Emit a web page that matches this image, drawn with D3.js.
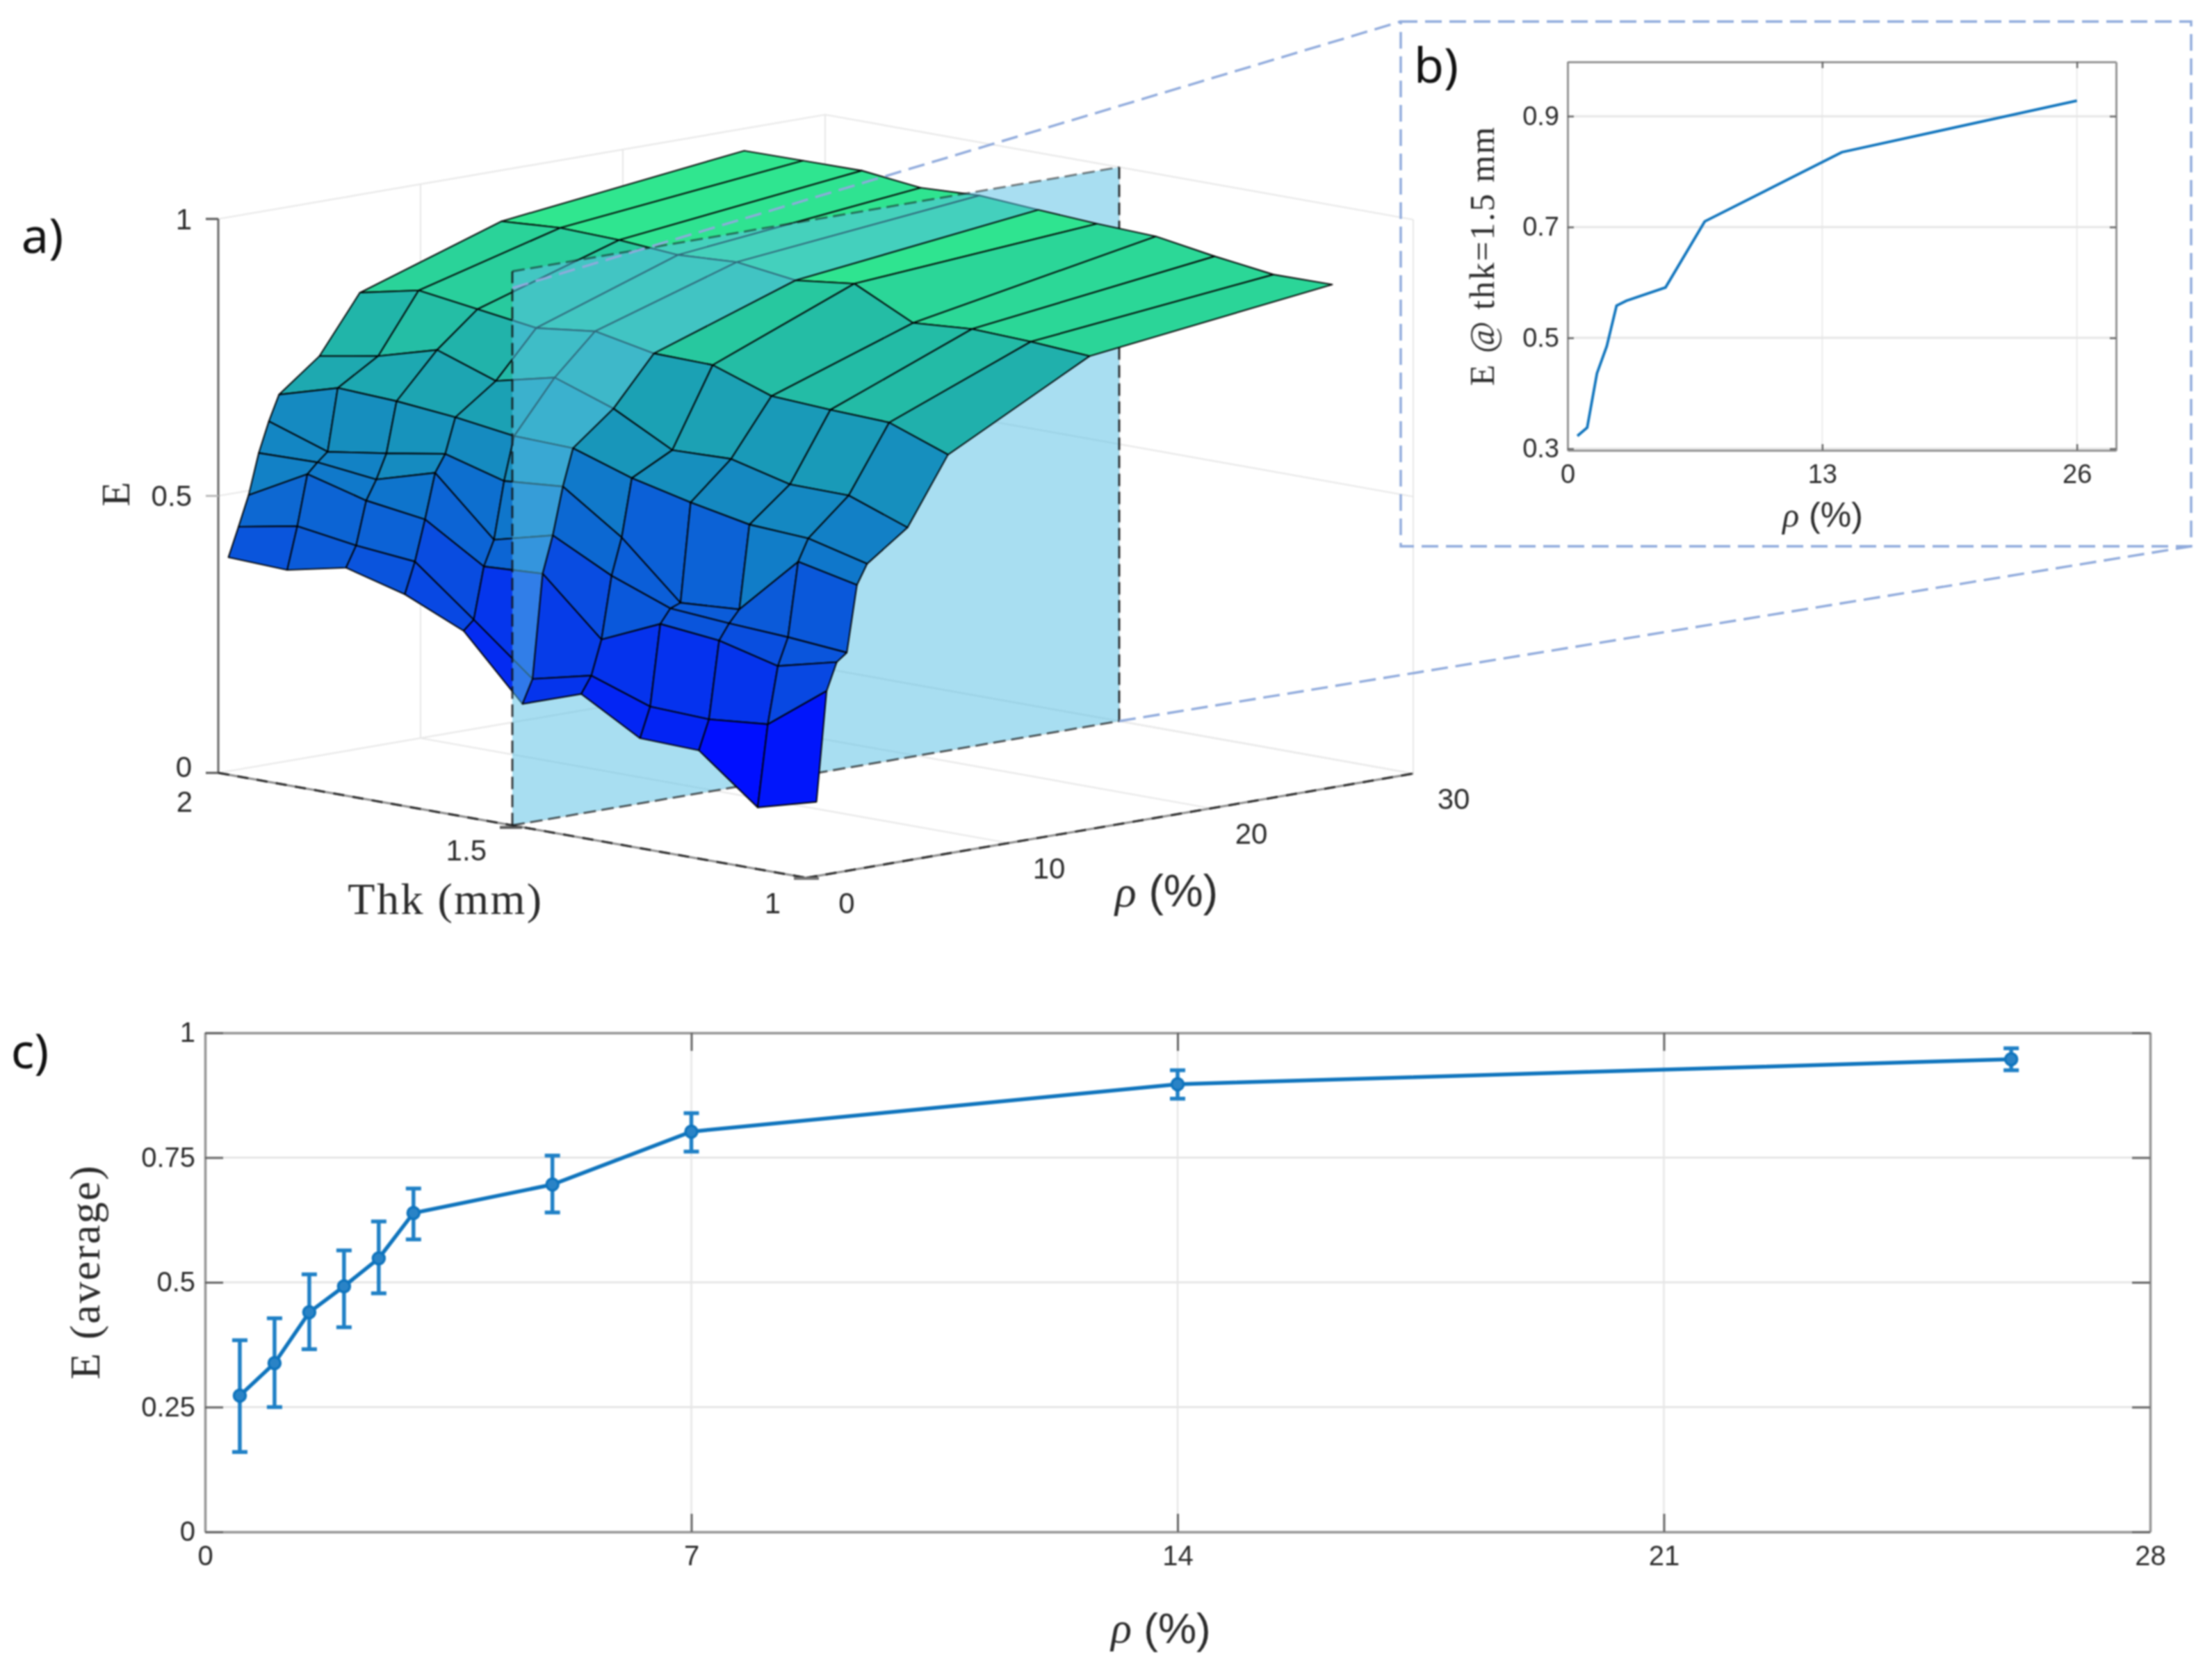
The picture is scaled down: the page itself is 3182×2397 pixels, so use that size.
<!DOCTYPE html>
<html><head><meta charset="utf-8">
<script src="https://cdn.jsdelivr.net/npm/d3@7"></script>
<style>
html,body{margin:0;padding:0;background:#fff}
svg{display:block;filter:blur(0.8px)}
text{fill:#2b2b2b}
</style></head><body><div id="c"></div>
<script>
// ---------- DATA ----------
const rhoGrid=[0.5,1,1.5,2,2.5,3,5,7,14,26];
const thkGrid=[1,1.1,1.2,1.3,1.4,1.5,1.6,1.7,1.8,1.9,2];
const surfaceE=[
 [.134,.331,.380,.394,.513,.548,.601,.720,.854,.908],
 [.105,.252,.354,.403,.536,.575,.640,.759,.861,.907],
 [.189,.242,.381,.409,.431,.581,.641,.763,.865,.921],
 [.192,.246,.392,.417,.424,.602,.668,.769,.857,.938],
 [.253,.283,.345,.457,.523,.627,.665,.806,.909,.942],
 [.216,.258,.445,.511,.596,.662,.721,.808,.896,.948],
 [.329,.346,.439,.484,.587,.665,.758,.829,.910,.955],
 [.376,.432,.505,.586,.617,.680,.733,.816,.904,.950],
 [.405,.442,.520,.555,.599,.690,.770,.831,.912,.962],
 [.382,.458,.549,.567,.583,.695,.740,.846,.915,.961],
 [.386,.438,.492,.565,.619,.664,.721,.823,.908,.960]];
const slicePlaneThk=1.5;
const zTicks3D=[0,0.5,1], thkTicks3D=[1,1.5,2], rhoTicks3D=[0,10,20,30];

const insetRho=[0.5,1,1.5,2,2.5,3,5,7,14,26];
const insetE=[.323,.338,.436,.485,.558,.567,.591,.71,.835,.928];
const insetXTicks=[0,13,26], insetYTicks=[.3,.5,.7,.9];

const avgRho=[0.5,1,1.5,2,2.5,3,5,7,14,26];
const avgE=[.273,.338,.440,.492,.548,.639,.696,.802,.897,.947];
const avgHi=[.384,.428,.516,.564,.622,.688,.754,.839,.925,.969];
const avgLo=[.160,.250,.366,.410,.478,.586,.640,.762,.868,.925];
const avgXTicks=[0,7,14,21,28], avgYTicks=[0,.25,.5,.75,1];

// ---------- PAGE ----------
const W=3182,H=2397;
const svg=d3.select("#c").append("svg").attr("width",W).attr("height",H).attr("viewBox",[0,0,W,H]);
svg.append("rect").attr("width",W).attr("height",H).attr("fill","#fff");
const SANS="'Liberation Sans',Arial,sans-serif",SERIF="'Liberation Serif',serif",CAL="'Noto Sans',sans-serif";
function label(g,x,y,txt,o={}){
  const t=g.append("text").attr("x",x).attr("y",y).attr("text-anchor",o.anchor||"middle")
   .attr("dominant-baseline","central").attr("font-family",o.font||SANS).attr("font-size",o.size||38).text(txt);
  if(o.rot!=null)t.attr("transform",`rotate(${o.rot} ${x} ${y})`);
  if(o.fill)t.style("fill",o.fill);
  if(o.ls)t.attr("letter-spacing",o.ls);
  return t;
}
function rhoLabel(g,x,y,size,rot){
  const t=g.append("text").attr("x",x).attr("y",y).attr("text-anchor","middle").attr("dominant-baseline","central").attr("font-size",size);
  if(rot!=null)t.attr("transform",`rotate(${rot} ${x} ${y})`);
  t.append("tspan").attr("font-family",SERIF).attr("font-style","italic").text("ρ");
  t.append("tspan").attr("font-family",SANS).text(" (%)");
}

// ---------- PANEL A : 3-D surface ----------
const F=[1160,1263],L=[314,1112],R=[2033,1113],ZH=797;
const u=d3.scaleLinear().domain([1,2]).range([0,1]);
const v=d3.scaleLinear().domain([0,30]).range([0,1]);
const w=d3.scaleLinear().domain([0,1]).range([0,ZH]);
function P(thk,rho,z){
  const a=u(thk),b=v(rho);
  return [F[0]+a*(L[0]-F[0])+b*(R[0]-F[0]), F[1]+a*(L[1]-F[1])+b*(R[1]-F[1])-w(z)];
}
const lineP=d3.line();
const A=svg.append("g");
function seg(g,p,q,o={}){
  g.append("line").attr("x1",p[0]).attr("y1",p[1]).attr("x2",q[0]).attr("y2",q[1])
   .attr("stroke",o.c||"#e8e8e8").attr("stroke-width",o.w||2.2).attr("stroke-dasharray",o.d||null).attr("opacity",o.op==null?1:o.op);
}
// back walls and floor grid
zTicks3D.forEach(z=>{ seg(A,P(2,0,z),P(2,30,z)); seg(A,P(2,30,z),P(1,30,z)); });
rhoTicks3D.filter(r=>r>0).forEach(r=>{ seg(A,P(1,r,0),P(2,r,0)); seg(A,P(2,r,0),P(2,r,1)); });
thkTicks3D.filter(t=>t<2).forEach(t=>{ seg(A,P(t,0,0),P(t,30,0)); seg(A,P(t,30,0),P(t,30,1)); });
// axis lines
seg(A,P(2,0,0),P(2,0,1),{c:"#666",w:3});
[[P(2,0,0),P(1,0,0)],[P(1,0,0),P(1,30,0)]].forEach(([p,q])=>{
  seg(A,p,q,{c:"#8c8c8c",w:3}); seg(A,p,q,{c:"#2a2a2a",w:3,d:"16 12"});
});
zTicks3D.forEach(z=>{const p=P(2,0,z); seg(A,[p[0]-18,p[1]],p,{c:z==.5?"#bbb":"#555",w:3});});
seg(A,[P(1.5,0,0)[0]-18,P(1.5,0,0)[1]+3],[P(1.5,0,0)[0]+14,P(1.5,0,0)[1]+3],{c:"#555",w:4});
seg(A,[P(1,0,0)[0]-18,P(1,0,0)[1]+1],[P(1,0,0)[0]+18,P(1,0,0)[1]+1],{c:"#777",w:4});
// tick labels
const fmt=d=>String(d);
zTicks3D.forEach(z=>{const p=P(2,0,z);label(A,p[0]-38,p[1]-(z==0?9:0),fmt(z),{size:42,anchor:"end"});});
thkTicks3D.forEach(t=>{const p=P(t,0,0);label(A,p[0]-37,p[1]+(t==2?41:36),fmt(t),{size:42,anchor:"end"});});
rhoTicks3D.forEach(r=>{const p=P(1,r,0);label(A,p[0]+58,p[1]+36,fmt(r),{size:42});});
label(A,166,711,"E",{font:SERIF,size:58,rot:-90});
label(A,641,1293,"Thk (mm)",{font:SERIF,size:64,ls:2.5});
rhoLabel(A,1678,1282,64);

// surface patches, back to front
const zColor=d3.scaleLinear().domain([.105,.5,.97]).range(["rgb(0,15,255)","rgb(14,115,205)","rgb(52,245,135)"]);
const patches=[];
for(let t=thkGrid.length-2;t>=0;t--)for(let r=rhoGrid.length-2;r>=0;r--)patches.push({t,r});
function drawPatches(list){
  A.append("g").selectAll("path").data(list).join("path")
   .attr("d",d=>lineP([
      P(thkGrid[d.t],rhoGrid[d.r],surfaceE[d.t][d.r]),
      P(thkGrid[d.t+1],rhoGrid[d.r],surfaceE[d.t+1][d.r]),
      P(thkGrid[d.t+1],rhoGrid[d.r+1],surfaceE[d.t+1][d.r+1]),
      P(thkGrid[d.t],rhoGrid[d.r+1],surfaceE[d.t][d.r+1])])+"Z")
   .attr("fill",d=>zColor(surfaceE[d.t][d.r]))
   .attr("stroke","#000").attr("stroke-width",1.9).attr("stroke-linejoin","round");
}
const iPlane=thkGrid.indexOf(slicePlaneThk);
drawPatches(patches.filter(d=>d.t>=iPlane));
// slice plane
const pc=[P(slicePlaneThk,0,0),P(slicePlaneThk,30,0),P(slicePlaneThk,30,1),P(slicePlaneThk,0,1)];
A.append("path").attr("d",lineP(pc)+"Z").attr("fill","rgb(90,192,229)").attr("fill-opacity",.525);
[[pc[0],pc[3],.85],[pc[1],pc[2],.9],[pc[0],pc[1],.7],[pc[3],pc[2],.55]].forEach(([p,q,o])=>
  seg(A,p,q,{c:"#111",w:2.8,d:"18 8",op:o}));
drawPatches(patches.filter(d=>d.t<iPlane));

// ---------- dashed call-out ----------
const BOX={x0:2015,y0:31,x1:3152,y1:786}, CALL="#8faadc";
const co=svg.append("g").attr("fill","none").attr("stroke",CALL).attr("stroke-width",3.4).attr("stroke-dasharray","24 11");
co.append("rect").attr("x",BOX.x0).attr("y",BOX.y0).attr("width",BOX.x1-BOX.x0).attr("height",BOX.y1-BOX.y0);
co.append("path").attr("d",lineP([[pc[3][0],pc[3][1]+24],[BOX.x0,BOX.y0]]));
co.append("path").attr("d",lineP([pc[1],[BOX.x1,BOX.y1]]));

// ---------- generic 2-D frame ----------
function frame(g,x,y,xt,yt,o){
  const [xa,xb]=x.range(),[yb,ya]=y.range();
  const grid=g.append("g");
  xt.forEach(t=>{ if(x(t)>xa+1&&x(t)<xb-1) grid.append("line").attr("x1",x(t)).attr("x2",x(t)).attr("y1",ya).attr("y2",yb).attr("stroke","#e6e6e6").attr("stroke-width",o.gridx);});
  yt.forEach(t=>{ if(y(t)>ya+1&&y(t)<yb-1) grid.append("line").attr("x1",xa).attr("x2",xb).attr("y1",y(t)).attr("y2",y(t)).attr("stroke","#e6e6e6").attr("stroke-width",o.gridy);});
  const style=s=>{s.select(".domain").attr("stroke","#949494").attr("stroke-width",o.axis);
     s.selectAll(".tick line").attr("stroke","#666").attr("stroke-width",o.tickw);
     s.selectAll("text").attr("font-family",SANS).attr("font-size",o.font).style("fill","#2b2b2b");};
  g.append("g").attr("transform",`translate(0,${yb})`).call(d3.axisBottom(x).tickValues(xt).tickFormat(fmt).tickSizeInner(-o.tick).tickSizeOuter(0).tickPadding(o.padx)).call(style);
  g.append("g").attr("transform",`translate(0,${ya})`).call(d3.axisTop(x).tickValues(xt).tickFormat("").tickSizeInner(-o.tick).tickSizeOuter(0)).call(style);
  g.append("g").attr("transform",`translate(${xa},0)`).call(d3.axisLeft(y).tickValues(yt).tickFormat(fmt).tickSizeInner(-o.tick).tickSizeOuter(0).tickPadding(o.pady)).call(style);
  g.append("g").attr("transform",`translate(${xb},0)`).call(d3.axisRight(y).tickValues(yt).tickFormat("").tickSizeInner(-o.tick).tickSizeOuter(0)).call(style);
}

// ---------- PANEL B ----------
const B=svg.append("g");
const xB=d3.scaleLinear().domain([0,28]).range([2255,3044]);
const yB=d3.scaleLinear().domain([.297,.998]).range([648,89]);
frame(B,xB,yB,insetXTicks,insetYTicks,{gridx:1.6,gridy:3,axis:3,tick:9,tickw:2.5,font:38,padx:20,pady:12});
B.append("path").datum(d3.range(insetRho.length)).attr("fill","none").attr("stroke","#0f74bd").attr("stroke-width",3.8)
 .attr("d",d3.line().x(i=>xB(insetRho[i])).y(i=>yB(insetE[i])));
label(B,2132,368,"E @ thk=1.5 mm",{font:SERIF,size:50,rot:-90,ls:2});
rhoLabel(B,2622,741,50);

// ---------- PANEL C ----------
const C=svg.append("g");
const xC=d3.scaleLinear().domain([0,28]).range([295,3093]);
const yC=d3.scaleLinear().domain([0,1]).range([2204,1486]);
frame(C,xC,yC,avgXTicks,avgYTicks,{gridx:2.4,gridy:3,axis:3.5,tick:26,tickw:3,font:40,padx:20,pady:14});
const BLUE="#1f80c6";
C.append("path").datum(d3.range(avgRho.length)).attr("fill","none").attr("stroke","#0f74bd").attr("stroke-width",5.5)
 .attr("d",d3.line().x(i=>xC(avgRho[i])).y(i=>yC(avgE[i])));
const eb=C.append("g").selectAll("g").data(d3.range(avgRho.length)).join("g").attr("stroke",BLUE).attr("stroke-width",5.5).attr("fill","none");
eb.append("line").attr("x1",i=>xC(avgRho[i])).attr("x2",i=>xC(avgRho[i])).attr("y1",i=>yC(avgLo[i])).attr("y2",i=>yC(avgHi[i]));
eb.append("line").attr("x1",i=>xC(avgRho[i])-11).attr("x2",i=>xC(avgRho[i])+11).attr("y1",i=>yC(avgLo[i])).attr("y2",i=>yC(avgLo[i]));
eb.append("line").attr("x1",i=>xC(avgRho[i])-11).attr("x2",i=>xC(avgRho[i])+11).attr("y1",i=>yC(avgHi[i])).attr("y2",i=>yC(avgHi[i]));
C.append("g").selectAll("circle").data(d3.range(avgRho.length)).join("circle")
 .attr("cx",i=>xC(avgRho[i])).attr("cy",i=>yC(avgE[i])).attr("r",8.5).attr("fill","#2a83c6").attr("stroke","#0f74bd").attr("stroke-width",3.5);
label(C,122,1830,"E (average)",{font:SERIF,size:62,rot:-90,ls:2});
rhoLabel(C,1670,2342,62);

// ---------- panel letters ----------
label(svg,61,337,"a)",{font:CAL,size:70,fill:"#111"});
label(svg,2066,92,"b)",{font:CAL,size:70,fill:"#111"});
label(svg,43,1510,"c)",{font:CAL,size:70,fill:"#111"});
</script></body></html>
